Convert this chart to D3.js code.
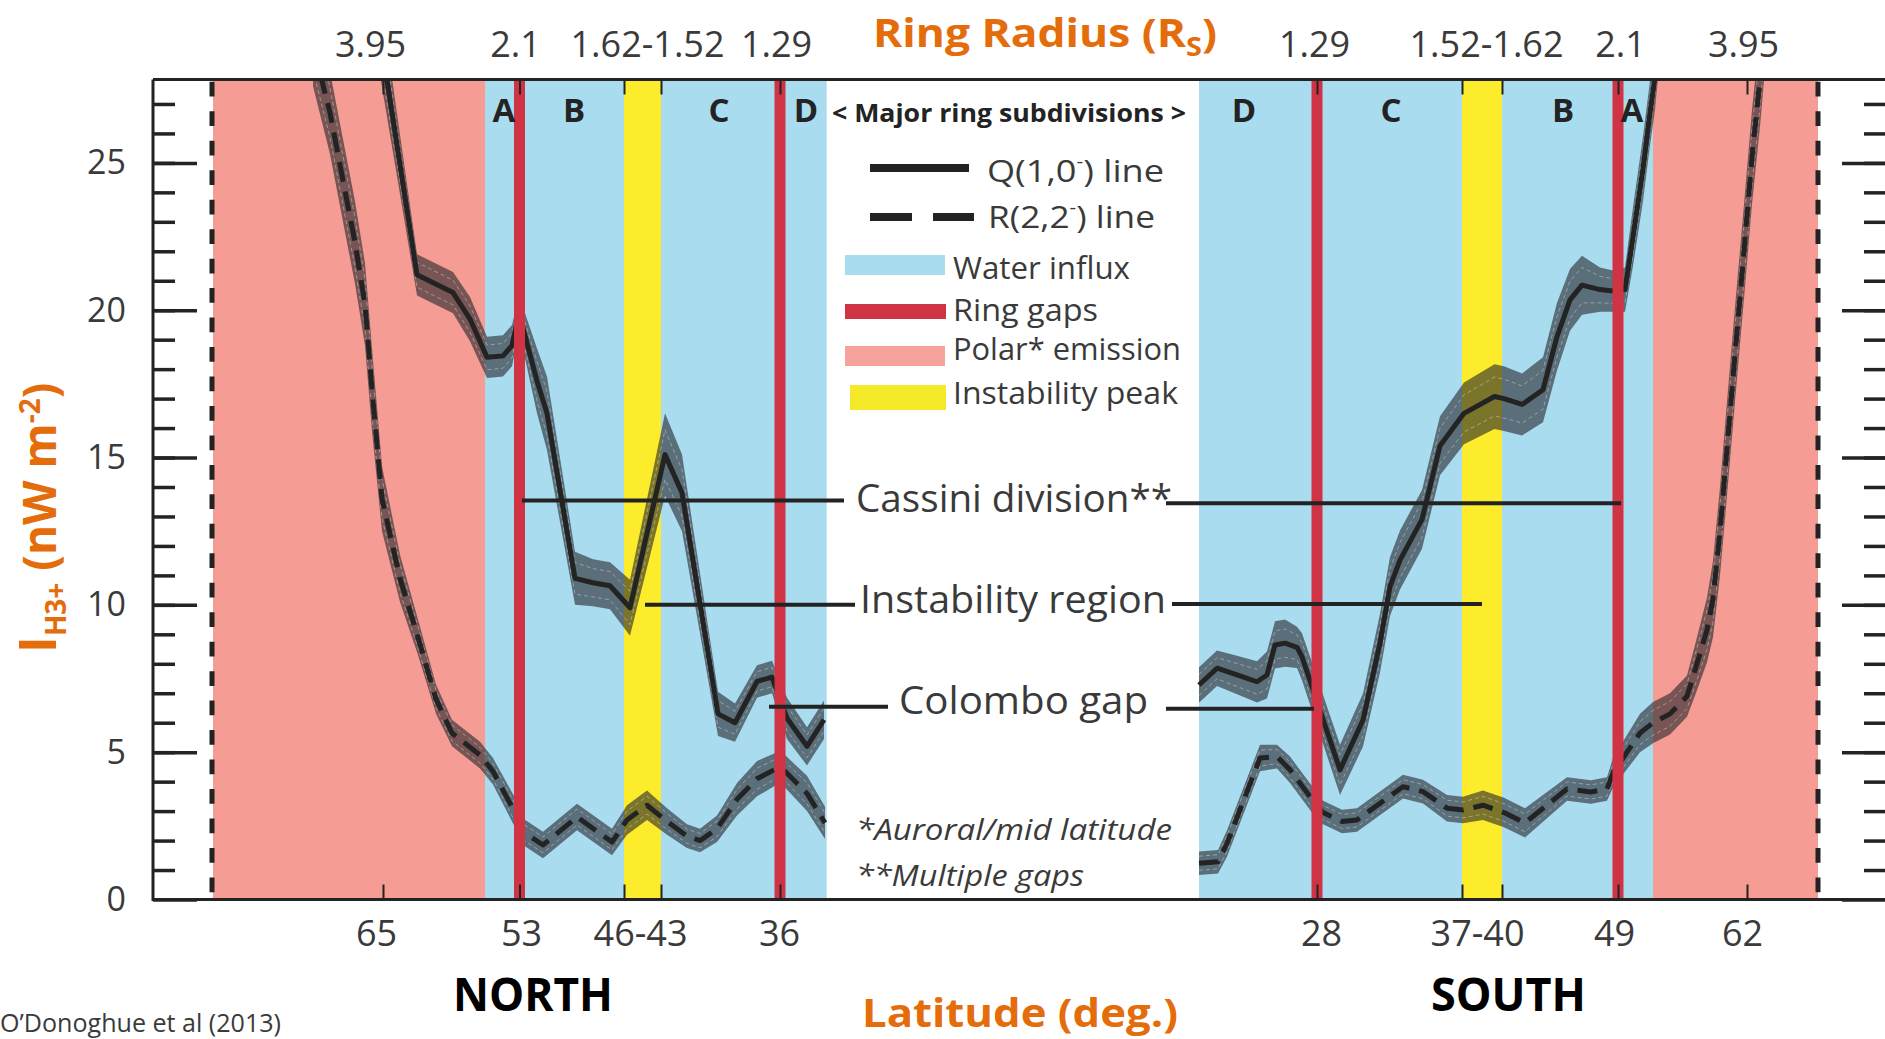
<!DOCTYPE html>
<html>
<head>
<meta charset="utf-8">
<script src="https://cdn.jsdelivr.net/npm/d3@7"></script>
<style>
  html, body { margin: 0; padding: 0; background: #fff; }
  svg { display: block; }
  text { font-family: "Open Sans", "Noto Sans", sans-serif; }
</style>
</head>
<body>
<svg id="chart" width="1885" height="1039"></svg>
<script>
// ---- Scan geometry (x = position along the scan, arbitrary units) ----
const scanExtent = [0, 173.3];
const intensityExtent = [0, 27.83];

// Shaded regions along the scan
const polarRegions = [[6.0, 33.2], [150.0, 166.5]];
const waterRegions = [[33.2, 67.37], [104.6, 150.0]];
const instabilityRegions = [[47.1, 50.8], [130.9, 134.9]];
const ringGaps = [36.65, 62.7, 116.4, 146.5];
const scanEdges = [5.9, 166.5];

// Ring subdivision letters
const ringLetters = [["A", 35.1], ["B", 42.1], ["C", 56.6], ["D", 65.3],
                     ["D", 109.1], ["C", 123.8], ["B", 141.0], ["A", 147.9]];

// Tick marks on the top / bottom axes
const edgeTicks = [23.0, 36.65, 47.1, 50.8, 62.7, 116.4, 130.9, 134.9, 146.5, 159.4];
// Ring radius labels (top) and latitude labels (bottom)
const radiusLabels = [["3.95", 21.7], ["2.1", 36.2], ["1.62-1.52", 49.4], ["1.29", 62.3],
                      ["1.29", 116.1], ["1.52-1.62", 133.3], ["2.1", 146.7], ["3.95", 159.0]];
const latitudeLabels = [["65", 22.3], ["53", 36.8], ["46-43", 48.7], ["36", 62.6],
                        ["28", 116.8], ["37-40", 132.4], ["49", 146.1], ["62", 158.9]];

const majorTicks = [0, 5, 10, 15, 20, 25];
const minorTicks = d3.range(1, 28);

// ---- Intensity profiles: [position, intensity (nW m^-2), uncertainty] ----
const northQ = [
  [21.5, 32.0, 1.6], [26.4, 21.2, 0.7], [30.0, 20.6, 0.7], [31.7, 19.7, 0.75],
  [33.4, 18.4, 0.7], [35.0, 18.45, 0.7], [35.9, 18.8, 0.7], [36.6, 19.9, 0.6],
  [38.4, 17.6, 1.1], [39.4, 16.5, 1.25], [42.2, 10.9, 0.9], [44.0, 10.75, 0.8],
  [45.7, 10.65, 0.8], [47.7, 9.9, 0.95], [51.2, 15.1, 1.4], [52.9, 13.8, 1.3],
  [56.5, 6.3, 0.75], [58.2, 6.0, 0.65], [60.4, 7.4, 0.55], [61.9, 7.55, 0.55],
  [63.4, 6.15, 0.7], [65.4, 5.2, 0.65], [67.1, 6.1, 0.65]
];
const northR = [
  [16.0, 29.0, 1.4], [17.7, 26.7, 1.4], [19.0, 24.4, 1.4], [20.2, 22.3, 1.4],
  [21.2, 20.2, 1.4], [21.9, 17.3, 1.4], [22.9, 13.6, 1.1], [24.7, 10.9, 0.8],
  [26.5, 8.9, 0.6], [28.3, 6.8, 0.5], [29.9, 5.65, 0.45], [32.7, 4.9, 0.45],
  [34.0, 4.35, 0.45], [36.2, 2.95, 0.5], [37.0, 2.3, 0.45], [39.0, 1.85, 0.45],
  [42.4, 2.8, 0.45], [45.9, 1.95, 0.45], [47.4, 2.7, 0.5], [49.4, 3.2, 0.5],
  [51.4, 2.65, 0.45], [53.4, 2.15, 0.4], [54.7, 2.0, 0.4], [56.4, 2.4, 0.45],
  [58.4, 3.4, 0.55], [60.4, 4.1, 0.6], [62.4, 4.45, 0.55], [63.2, 4.35, 0.55],
  [65.4, 3.6, 0.6], [67.2, 2.6, 0.55]
];
const southQ = [
  [104.6, 7.28, 0.6], [106.4, 7.85, 0.6], [108.4, 7.62, 0.65], [110.4, 7.39, 0.7],
  [111.4, 7.62, 0.8], [112.2, 8.64, 0.8], [113.2, 8.7, 0.8], [114.4, 8.56, 0.7],
  [114.9, 8.24, 0.8], [118.7, 4.4, 0.85], [121.0, 6.09, 0.9], [122.7, 8.7, 1.0],
  [123.7, 10.62, 1.0], [124.7, 11.52, 1.0], [126.9, 12.9, 1.0], [128.7, 15.4, 1.0],
  [131.1, 16.5, 1.05], [134.15, 17.07, 1.1], [135.1, 17.0, 1.1], [136.9, 16.8, 1.05],
  [139.0, 17.3, 1.1], [140.4, 19.1, 1.15], [141.7, 20.35, 1.05], [142.9, 20.85, 1.0],
  [144.7, 20.7, 0.75], [146.0, 20.65, 0.7], [147.2, 20.7, 0.75], [148.0, 22.5, 1.0],
  [149.0, 24.8, 1.1], [149.7, 26.7, 1.1], [150.2, 27.9, 1.1], [150.5, 29.0, 1.1]
];
const southR = [
  [104.6, 1.23, 0.4], [106.5, 1.28, 0.4], [107.4, 1.9, 0.45], [110.7, 4.8, 0.45],
  [112.4, 4.85, 0.4], [113.7, 4.4, 0.45], [115.9, 3.4, 0.45], [117.0, 2.95, 0.4],
  [118.9, 2.65, 0.4], [120.4, 2.7, 0.4], [125.0, 3.83, 0.4], [127.0, 3.66, 0.4],
  [129.4, 3.1, 0.45], [131.0, 3.04, 0.45], [133.0, 3.2, 0.5], [135.1, 2.95, 0.5],
  [137.2, 2.6, 0.5], [141.4, 3.75, 0.4], [143.8, 3.65, 0.4], [145.4, 3.75, 0.4],
  [146.0, 4.3, 0.5], [148.7, 5.65, 0.65], [150.0, 6.0, 0.7], [151.7, 6.3, 0.7],
  [153.4, 6.9, 0.7], [154.4, 8.0, 0.9], [155.4, 9.15, 1.1], [156.0, 10.2, 1.3],
  [156.7, 12.5, 1.5], [157.4, 15.3, 1.6], [158.2, 18.5, 1.6], [159.1, 22.0, 1.6],
  [159.9, 25.2, 1.6], [160.7, 27.83, 1.6], [161.1, 29.4, 1.6]
];

// Callout leader lines: [from, to, intensity level]
const cassiniLeaders = [[36.9, 69.1, 13.54], [101.3, 146.8, 13.45]];
const instabilityLeaders = [[49.2, 70.2, 10.0], [101.9, 132.9, 10.03]];
const colomboLeaders = [[61.6, 73.5, 6.54], [101.3, 116.1, 6.47]];

// ---- Layout ----
const svg = d3.select("#chart");
const x = d3.scaleLinear().domain(scanExtent).range([153, 1886]);
const y = d3.scaleLinear().domain(intensityExtent).range([899.5, 79.5]);

const C = {
  pink: "#f59c94", blue: "#aadcf0", yellow: "#fcec2b", red: "#d03343",
  ink: "#232323", grey: "#3a3a3a", orange: "#e46c0a"
};

svg.append("defs").append("clipPath").attr("id", "plotClip")
  .append("rect").attr("x", x(0)).attr("y", y(intensityExtent[1]))
  .attr("width", x(scanExtent[1]) - x(0))
  .attr("height", y(0) - y(intensityExtent[1]));

const plot = svg.append("g").attr("clip-path", "url(#plotClip)");
const yTop = y(intensityExtent[1]), yBottom = y(0);

function bands(data, fill) {
  plot.append("g").selectAll("rect").data(data).join("rect")
    .attr("x", d => x(d[0])).attr("width", d => x(d[1]) - x(d[0]))
    .attr("y", yTop).attr("height", yBottom - yTop).attr("fill", fill);
}
bands(polarRegions, C.pink);
bands(waterRegions, C.blue);
bands(instabilityRegions, C.yellow);

// dashed scan-edge markers, dashes centred on half units
const unitPx = y(0) - y(1);
const firstHalf = Math.floor(intensityExtent[1] - 0.5) + 0.5;
const dashStart = y(firstHalf) - unitPx / 4 - yTop;
plot.append("g").selectAll("line").data(scanEdges).join("line")
  .attr("x1", d => x(d)).attr("x2", d => x(d))
  .attr("y1", yTop).attr("y2", yBottom)
  .attr("stroke", C.ink).attr("stroke-width", 5)
  .attr("stroke-dasharray", `${unitPx / 2} ${unitPx / 2}`)
  .attr("stroke-dashoffset", unitPx - dashStart);

// uncertainty envelopes and profile lines
const area = d3.area().x(d => x(d[0])).y0(d => y(d[1] - d[2])).y1(d => y(d[1] + d[2]));
const edgeLine = k => d3.line().x(d => x(d[0])).y(d => y(d[1] + k * d[2]));
const profile = d3.line().x(d => x(d[0])).y(d => y(d[1]));

[northQ, northR, southQ, southR].forEach(series => {
  plot.append("path").attr("d", area(series)).attr("fill", "rgba(36,38,44,0.6)");
  [-0.6, 0.6].forEach(k => plot.append("path").attr("d", edgeLine(k)(series))
    .attr("fill", "none").attr("stroke", "rgba(255,255,255,0.35)")
    .attr("stroke-width", 1).attr("stroke-dasharray", "4 3"));
});
[northQ, southQ].forEach(series => plot.append("path").attr("d", profile(series))
  .attr("fill", "none").attr("stroke", C.ink).attr("stroke-width", 5)
  .attr("stroke-linejoin", "round"));
[northR, southR].forEach(series => plot.append("path").attr("d", profile(series))
  .attr("fill", "none").attr("stroke", C.ink).attr("stroke-width", 5)
  .attr("stroke-dasharray", "20 10").attr("stroke-linejoin", "round"));

// ring gaps
plot.append("g").selectAll("line").data(ringGaps).join("line")
  .attr("x1", d => x(d)).attr("x2", d => x(d)).attr("y1", yTop).attr("y2", yBottom)
  .attr("stroke", C.red).attr("stroke-width", 11);

// callout leaders
plot.append("g").selectAll("line")
  .data([...cassiniLeaders, ...instabilityLeaders, ...colomboLeaders]).join("line")
  .attr("x1", d => x(d[0])).attr("x2", d => x(d[1]))
  .attr("y1", d => y(d[2])).attr("y2", d => y(d[2]))
  .attr("stroke", C.ink).attr("stroke-width", 4);

// ring letters
svg.append("g").selectAll("text").data(ringLetters).join("text")
  .attr("x", d => x(d[1])).attr("y", y(26.4))
  .attr("text-anchor", "middle").attr("font-size", 33).attr("font-weight", 700)
  .attr("fill", C.ink).text(d => d[0]);

// ---- Axes ----
function clean(g) { g.select(".domain").remove(); return g; }
function styleTicks(g, w) { g.selectAll(".tick line").attr("stroke", C.ink).attr("stroke-width", w); }

// left axis: inward ticks, labels outside
svg.append("g").attr("transform", `translate(${x(0)},0)`)
  .call(d3.axisRight(y).tickValues(minorTicks).tickSize(22).tickFormat(""))
  .call(clean).call(g => styleTicks(g, 3.5));
svg.append("g").attr("transform", `translate(${x(0)},0)`)
  .call(d3.axisRight(y).tickValues(majorTicks).tickSize(44).tickFormat(""))
  .call(clean).call(g => styleTicks(g, 3.5));
svg.append("g").attr("transform", `translate(${x(0)},0)`)
  .call(d3.axisLeft(y).tickValues(majorTicks).tickSize(0).tickPadding(27))
  .call(clean)
  .call(g => g.selectAll("text").attr("font-size", 34).attr("fill", C.grey)
    .attr("font-family", "'Open Sans', sans-serif"));
// right axis
svg.append("g").attr("transform", `translate(${x(scanExtent[1])},0)`)
  .call(d3.axisLeft(y).tickValues(minorTicks).tickSize(22).tickFormat(""))
  .call(clean).call(g => styleTicks(g, 3.5));
svg.append("g").attr("transform", `translate(${x(scanExtent[1])},0)`)
  .call(d3.axisLeft(y).tickValues(majorTicks).tickSize(44).tickFormat(""))
  .call(clean).call(g => styleTicks(g, 3.5));

// top and bottom axes: short inward ticks
svg.append("g").attr("transform", `translate(0,${yTop})`)
  .call(d3.axisBottom(x).tickValues(edgeTicks).tickSize(15).tickFormat(""))
  .call(clean).call(g => styleTicks(g, 2));
svg.append("g").attr("transform", `translate(0,${yBottom})`)
  .call(d3.axisTop(x).tickValues(edgeTicks).tickSize(15).tickFormat(""))
  .call(clean).call(g => styleTicks(g, 2));

// ring radius labels (top)
const radiusMap = new Map(radiusLabels.map(d => [d[1], d[0]]));
svg.append("g").attr("transform", `translate(0,${yTop})`)
  .call(d3.axisTop(x).tickValues(radiusLabels.map(d => d[1])).tickSize(0).tickPadding(23)
    .tickFormat(d => radiusMap.get(d)))
  .call(clean)
  .call(g => g.selectAll("text").attr("font-size", 36).attr("fill", C.grey)
    .attr("font-family", "'Open Sans', sans-serif"));
// latitude labels (bottom)
const latMap = new Map(latitudeLabels.map(d => [d[1], d[0]]));
svg.append("g").attr("transform", `translate(0,${yBottom})`)
  .call(d3.axisBottom(x).tickValues(latitudeLabels.map(d => d[1])).tickSize(0).tickPadding(21)
    .tickFormat(d => latMap.get(d)))
  .call(clean)
  .call(g => g.selectAll("text").attr("font-size", 36).attr("fill", C.grey)
    .attr("font-family", "'Open Sans', sans-serif"));

// frame
const frame = svg.append("g").attr("stroke", C.ink).attr("stroke-width", 3);
frame.append("line").attr("x1", x(0)).attr("x2", x(scanExtent[1])).attr("y1", yTop).attr("y2", yTop);
frame.append("line").attr("x1", x(0)).attr("x2", x(scanExtent[1])).attr("y1", yBottom).attr("y2", yBottom);
frame.append("line").attr("x1", x(0)).attr("x2", x(0)).attr("y1", yTop).attr("y2", yBottom + 1.5);

// ---- Titles ----
const title = svg.append("text").attr("x", 873).attr("y", 47)
  .attr("font-size", 40).attr("font-weight", 700).attr("fill", C.orange)
  .attr("textLength", 344).attr("lengthAdjust", "spacingAndGlyphs");
title.append("tspan").text("Ring Radius (R");
title.append("tspan").attr("font-size", 26).attr("dy", 9).text("S");
title.append("tspan").attr("dy", -9).text(")");

svg.append("text").attr("x", 862).attr("y", 1027)
  .attr("font-size", 40).attr("font-weight", 700).attr("fill", C.orange)
  .attr("textLength", 316).attr("lengthAdjust", "spacingAndGlyphs")
  .text("Latitude (deg.)");

const ylab = svg.append("text").attr("transform", "translate(56,518) rotate(-90)")
  .attr("text-anchor", "middle").attr("font-weight", 700).attr("fill", C.orange);
ylab.append("tspan").attr("font-size", 52).text("I");
ylab.append("tspan").attr("font-size", 28).attr("dy", 10).text("H3+");
ylab.append("tspan").attr("font-size", 46).attr("dy", -10).text(" (nW m");
ylab.append("tspan").attr("font-size", 28).attr("dy", -16).text("-2");
ylab.append("tspan").attr("font-size", 46).attr("dy", 16).text(")");

[["NORTH", 453, 160], ["SOUTH", 1431, 155]].forEach(([t, x0, w]) =>
  svg.append("text").attr("x", x0).attr("y", 1011).attr("font-size", 46).attr("font-weight", 700)
    .attr("fill", "#000").attr("textLength", w).attr("lengthAdjust", "spacingAndGlyphs").text(t));

svg.append("text").attr("x", 0).attr("y", 1032).attr("font-size", 25).attr("fill", C.grey)
  .attr("textLength", 281).attr("lengthAdjust", "spacingAndGlyphs")
  .text("O\u2019Donoghue et al (2013)");

// ---- Legend ----
const legend = svg.append("g");
legend.append("text").attr("x", 832).attr("y", 122).attr("font-size", 25).attr("font-weight", 700)
  .attr("fill", C.ink).attr("textLength", 354).attr("lengthAdjust", "spacingAndGlyphs")
  .text("< Major ring subdivisions >");
legend.append("line").attr("x1", 870).attr("x2", 969).attr("y1", 168).attr("y2", 168)
  .attr("stroke", C.ink).attr("stroke-width", 8);
legend.append("line").attr("x1", 870).attr("x2", 974).attr("y1", 217).attr("y2", 217)
  .attr("stroke", C.ink).attr("stroke-width", 8).attr("stroke-dasharray", "42 21");
const qText = legend.append("text").attr("x", 987).attr("y", 182).attr("font-size", 31).attr("fill", C.grey)
  .attr("textLength", 177).attr("lengthAdjust", "spacingAndGlyphs");
qText.append("tspan").text("Q(1,0");
qText.append("tspan").attr("font-size", 18).attr("dy", -14).text("-");
qText.append("tspan").attr("dy", 14).text(") line");
const rText = legend.append("text").attr("x", 988).attr("y", 228).attr("font-size", 31).attr("fill", C.grey)
  .attr("textLength", 167).attr("lengthAdjust", "spacingAndGlyphs");
rText.append("tspan").text("R(2,2");
rText.append("tspan").attr("font-size", 18).attr("dy", -14).text("-");
rText.append("tspan").attr("dy", 14).text(") line");

const swatches = [
  ["Water influx", C.blue, 845, 255, 100, 20, 279, 177],
  ["Ring gaps", C.red, 845, 304, 101, 15, 321, 145],
  ["Polar* emission", "#f5a39c", 845, 346, 100, 20, 360, 228],
  ["Instability peak", "#f5ea2a", 850, 385, 96, 25, 404, 225]
];
swatches.forEach(([label, fill, sx, sy, sw, sh, base, tw]) => {
  legend.append("rect").attr("x", sx).attr("y", sy).attr("width", sw).attr("height", sh).attr("fill", fill);
  legend.append("text").attr("x", 953).attr("y", base).attr("font-size", 31).attr("fill", C.grey)
    .attr("textLength", tw).attr("lengthAdjust", "spacingAndGlyphs").text(label);
});

// ---- Callout labels ----
[["Cassini division**", 856, 512, 316], ["Instability region", 860, 613, 306],
 ["Colombo gap", 899, 714, 249]].forEach(([t, x0, b, w]) =>
  svg.append("text").attr("x", x0).attr("y", b).attr("font-size", 38).attr("fill", C.grey)
    .attr("textLength", w).attr("lengthAdjust", "spacingAndGlyphs").text(t));

[["*Auroral/mid latitude", 856, 840, 316], ["**Multiple gaps", 856, 886, 228]].forEach(([t, x0, b, w]) =>
  svg.append("text").attr("x", x0).attr("y", b).attr("font-size", 30).attr("font-style", "italic")
    .attr("fill", C.grey).attr("textLength", w).attr("lengthAdjust", "spacingAndGlyphs").text(t));
</script>
</body>
</html>
